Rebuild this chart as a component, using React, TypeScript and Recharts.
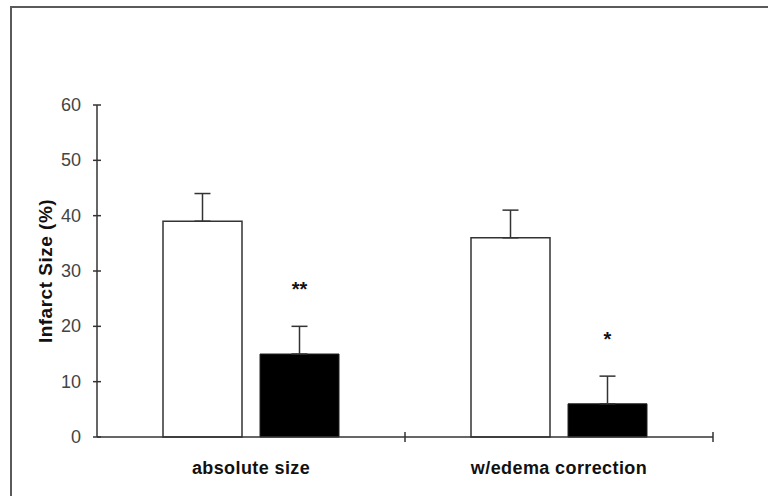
import React from 'react';
import { BarChart, Bar, XAxis, YAxis, ErrorBar, LabelList } from 'recharts';

const categories = ['absolute size', 'w/edema correction'];
const controlValues = [39, 36];
const controlErrors = [5, 5];
const treatedValues = [15, 6];
const treatedErrors = [5, 5];
const significance = ['**', '*'];
const yTicks = [0, 10, 20, 30, 40, 50, 60];

const data = categories.map((name, i) => ({
  name,
  control: controlValues[i],
  controlErr: [0, controlErrors[i]],
  treated: treatedValues[i],
  treatedErr: [0, treatedErrors[i]],
  sig: significance[i],
}));

const FONT = 'Liberation Sans, Arial, sans-serif';
const TICK_SIZE = 4;
const TICK_MARGIN = 12;

const YTick = (props: any) => {
  const { x, y, payload } = props;
  const axisX = x + TICK_SIZE + TICK_MARGIN;
  return (
    <g>
      <line x1={axisX - TICK_SIZE} x2={axisX + TICK_SIZE} y1={y} y2={y} stroke="#333" strokeWidth={1.5} />
      <text x={x} y={y} dy={6} textAnchor="end" fill="#444" fontSize={18} fontFamily={FONT}>
        {payload.value}
      </text>
    </g>
  );
};

const XTick = (props: any) => {
  const { x, y, payload } = props;
  return (
    <text x={x} y={y} dy={29} textAnchor="middle" fill="#111" fontSize={18} fontWeight="bold" letterSpacing={0.4} fontFamily={FONT}>
      {payload.value}
    </text>
  );
};

const YLabel = (props: any) => {
  const { viewBox } = props;
  const cx = viewBox.x + 8;
  const cy = viewBox.y + viewBox.height / 2;
  return (
    <text x={cx} y={cy} transform={`rotate(-90 ${cx} ${cy})`} textAnchor="middle" dominantBaseline="central" fill="#111" fontSize={19} fontWeight="bold" letterSpacing={0.5} fontFamily={FONT}>
      Infarct Size (%)
    </text>
  );
};

// star above the error bar of the treated bar
const SigLabel = (props: any) => {
  const { x, y, width, value } = props;
  return (
    <text x={x + width / 2} y={y - 58} textAnchor="middle" fill="#111" fontSize={20} fontWeight="bold" fontFamily={FONT}>
      {value}
    </text>
  );
};

export default function App() {
  const plotLeft = 97;
  const plotRight = 713;
  const plotBottom = 437;
  return (
    <div style={{ position: 'absolute', left: 0, top: 0, width: 768, height: 496, background: '#fff', overflow: 'hidden' }}>
      <div style={{ position: 'absolute', left: 10, top: 6, width: 800, height: 520, borderTop: '2px solid #5a5a5a', borderLeft: '2px solid #5a5a5a' }} />
      <div style={{ position: 'absolute', left: 0, top: 0 }}>
        <BarChart
          width={768}
          height={496}
          data={data}
          margin={{ top: 105, right: 768 - plotRight, bottom: 496 - plotBottom - 30, left: plotLeft - 60 }}
          barSize={79}
          barGap={18}
        >
          <YAxis
            domain={[0, 60]}
            ticks={yTicks}
            width={60}
            tickSize={TICK_SIZE}
            tickMargin={TICK_MARGIN}
            tickLine={false}
            axisLine={{ stroke: '#333', strokeWidth: 1.5 }}
            tick={<YTick />}
            interval={0}
            label={<YLabel />}
          />
          <XAxis
            dataKey="name"
            height={30}
            tickLine={false}
            axisLine={{ stroke: '#333', strokeWidth: 1.5 }}
            tick={<XTick />}
            interval={0}
          />
          <Bar dataKey="control" fill="#fff" stroke="#333" strokeWidth={1.5} isAnimationActive={false}>
            <ErrorBar dataKey="controlErr" width={8} stroke="#333" strokeWidth={1.5} direction="y" />
          </Bar>
          <Bar dataKey="treated" fill="#000" stroke="#222" strokeWidth={1} isAnimationActive={false}>
            <ErrorBar dataKey="treatedErr" width={8} stroke="#333" strokeWidth={1.5} direction="y" />
            <LabelList dataKey="sig" content={<SigLabel />} />
          </Bar>
        </BarChart>
      </div>
      <svg style={{ position: 'absolute', left: 0, top: 0 }} width={768} height={496}>
        {[(plotLeft + plotRight) / 2, plotRight].map((tx) => (
          <line key={tx} x1={tx} x2={tx} y1={plotBottom - 5} y2={plotBottom + 5} stroke="#333" strokeWidth={1.5} />
        ))}
      </svg>
    </div>
  );
}
